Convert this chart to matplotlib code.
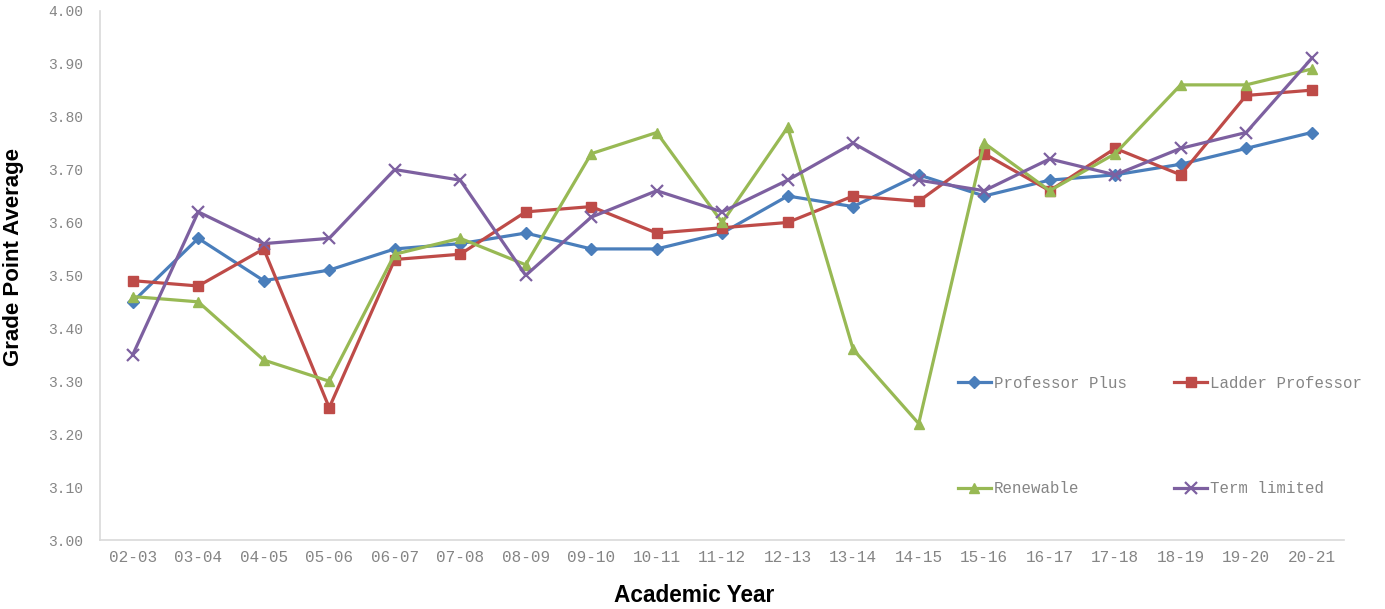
import matplotlib
matplotlib.use("Agg")
import matplotlib.pyplot as plt
from matplotlib.ticker import FixedLocator

years = ["02-03", "03-04", "04-05", "05-06", "06-07", "07-08", "08-09", "09-10",
         "10-11", "11-12", "12-13", "13-14", "14-15", "15-16", "16-17", "17-18",
         "18-19", "19-20", "20-21"]

professor_plus = [3.45, 3.57, 3.49, 3.51, 3.55, 3.56, 3.58, 3.55, 3.55, 3.58,
                  3.65, 3.63, 3.69, 3.65, 3.68, 3.69, 3.71, 3.74, 3.77]
ladder_professor = [3.49, 3.48, 3.55, 3.25, 3.53, 3.54, 3.62, 3.63, 3.58, 3.59,
                    3.60, 3.65, 3.64, 3.73, 3.66, 3.74, 3.69, 3.84, 3.85]
renewable = [3.46, 3.45, 3.34, 3.30, 3.54, 3.57, 3.52, 3.73, 3.77, 3.60,
             3.78, 3.36, 3.22, 3.75, 3.66, 3.73, 3.86, 3.86, 3.89]
term_limited = [3.35, 3.62, 3.56, 3.57, 3.70, 3.68, 3.50, 3.61, 3.66, 3.62,
                3.68, 3.75, 3.68, 3.66, 3.72, 3.69, 3.74, 3.77, 3.91]

y_ticks = [3.00, 3.10, 3.20, 3.30, 3.40, 3.50, 3.60, 3.70, 3.80, 3.90, 4.00]

W, H = 1385, 609
fig = plt.figure(figsize=(W / 100, H / 100), dpi=100)
ax = fig.add_axes([0.0722, 0.1133, 0.8985, 0.869])

x = list(range(len(years)))
lw = 2.3
series = [
    ("Professor Plus", professor_plus, "#4A7EBB", "D", 6),
    ("Ladder Professor", ladder_professor, "#BE4B48", "s", 7),
    ("Renewable", renewable, "#98B954", "^", 7.5),
    ("Term limited", term_limited, "#7D60A0", "x", 8),
]
handles = {}
for name, vals, col, mk, ms in series:
    h, = ax.plot(x, vals, color=col, lw=lw, marker=mk, markersize=ms,
                 markeredgewidth=1.6 if mk == "x" else 1.0,
                 markeredgecolor=col, markerfacecolor=col, label=name)
    handles[name] = h

ax.set_xlim(-0.5, len(years) - 0.5)
ax.set_ylim(3.0, 4.0)
ax.set_xticks(x)
ax.set_xticklabels(years)
ax.yaxis.set_major_locator(FixedLocator(y_ticks))
ax.set_yticklabels([f"{v:.2f}" for v in y_ticks])

mono = "Liberation Mono"
for lab in ax.get_xticklabels():
    lab.set_fontfamily(mono)
    lab.set_fontsize(11.5)
    lab.set_color("#858585")
for lab in ax.get_yticklabels():
    lab.set_fontfamily(mono)
    lab.set_fontsize(10.5)
    lab.set_color("#858585")

ax.tick_params(axis="both", length=0)
ax.tick_params(axis="x", pad=7)
ax.tick_params(axis="y", pad=12)

for side in ("top", "right"):
    ax.spines[side].set_visible(False)
for side in ("left", "bottom"):
    ax.spines[side].set_color("#D9D9D9")
    ax.spines[side].set_linewidth(1.2)

fig.text(14 / W, 1 - 257 / H, "Grade Point Average", rotation=90,
         ha="center", va="center", fontfamily="Liberation Sans",
         fontweight="bold", fontsize=16, color="black")
fig.text(694 / W, 1 - 595 / H, "Academic Year",
         ha="center", va="center", fontfamily="Liberation Sans",
         fontweight="bold", fontsize=16.3, color="black")

order = ["Professor Plus", "Renewable", "Ladder Professor", "Term limited"]
leg = ax.legend([handles[n] for n in order], order, ncol=2,
                loc="upper left", bbox_to_anchor=(0.678, 0.337),
                frameon=False, handlelength=2.1, handletextpad=0.2,
                labelspacing=5.75, columnspacing=3.0,
                prop={"family": mono, "size": 11.3})
for t in leg.get_texts():
    t.set_color("#858585")

fig.savefig("out.png", dpi=100)
